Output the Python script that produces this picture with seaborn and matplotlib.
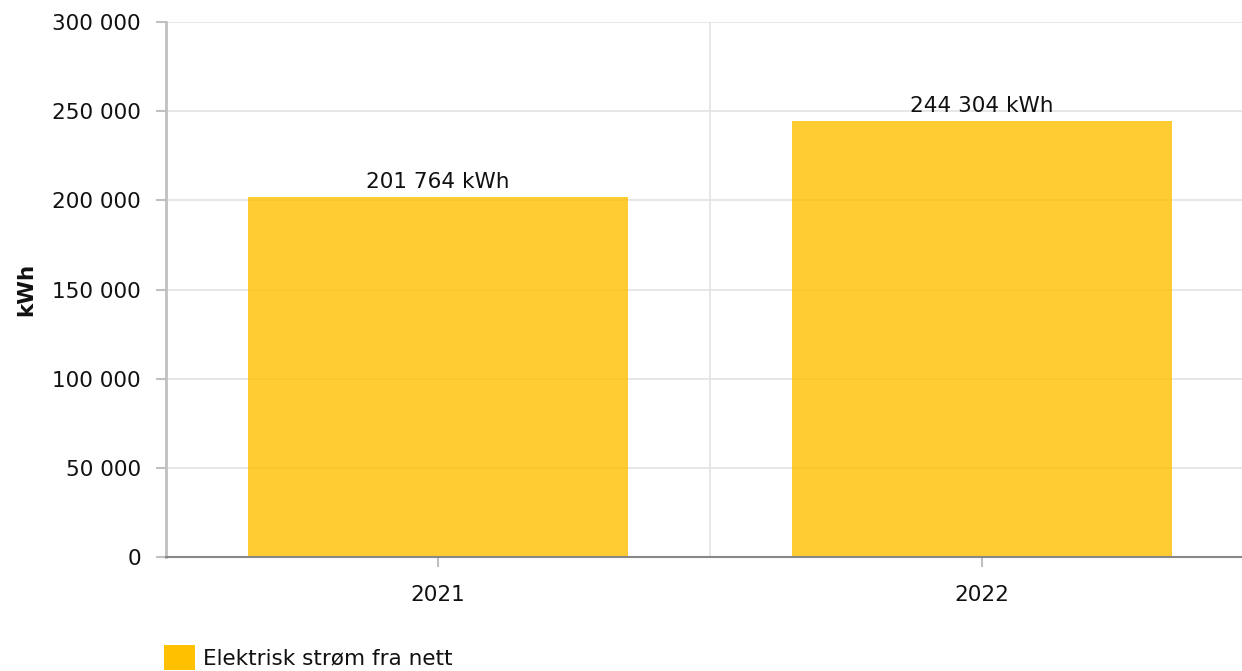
import matplotlib
matplotlib.use("Agg")
import matplotlib.pyplot as plt
import seaborn as sns
import pandas as pd
from matplotlib.ticker import FuncFormatter, MultipleLocator
from matplotlib.patches import Patch

years = ["2021", "2022"]
values = [201764, 244304]
series_name = "Elektrisk strøm fra nett"
y_label = "kWh"

sns.set_theme(style="white")
plt.rcParams["font.family"] = ["DejaVu Sans"]

W, H = 1242, 671
fig = plt.figure(figsize=(W / 100, H / 100), dpi=100)
ax = fig.add_axes([166 / W, 114 / H, 1088 / W, 535 / H])

df = pd.DataFrame({"year": years, "value": values})
sns.barplot(data=df, x="year", y="value", color="#FFC000", saturation=1,
            alpha=0.8, width=0.7, ax=ax, errorbar=None, linewidth=0)

FS = 15.5
TXT = "#111111"
ax.set_xlim(-0.5, 1.5)
ax.set_ylim(0, 300000)
ax.yaxis.set_major_locator(MultipleLocator(50000))
ax.yaxis.set_major_formatter(FuncFormatter(lambda v, p: f"{v:,.0f}".replace(",", " ")))
ax.grid(axis="y", color="#E3E3E3", linewidth=1.2, zorder=0)
ax.set_axisbelow(True)
ax.axvline(0.5, color="#E3E3E3", linewidth=1.2, zorder=0)

for s in ["top", "right"]:
    ax.spines[s].set_visible(False)
ax.spines["left"].set_color("#C0C0C0")
ax.spines["left"].set_linewidth(2)
ax.spines["bottom"].set_color("#888888")
ax.spines["bottom"].set_linewidth(1.5)

ax.tick_params(axis="y", which="major", left=True, length=7.2, width=1.5,
               color="#C0C0C0", pad=10.8, labelsize=FS, labelcolor=TXT)
ax.tick_params(axis="x", which="major", bottom=True, length=7.2, width=1.5,
               color="#C0C0C0", pad=13, labelsize=FS, labelcolor=TXT)

ax.set_xlabel("")
ax.set_ylabel(y_label, fontsize=FS, fontweight="bold", color=TXT)
ax.yaxis.set_label_coords(-0.119, 0.5)

ax.bar_label(ax.containers[0],
             labels=[f"{v:,.0f}".replace(",", " ") + " kWh" for v in values],
             padding=4, fontsize=FS, color=TXT)

handle = Patch(facecolor="#FFC000", edgecolor="none", label=series_name)
fig.legend(handles=[handle], loc="upper left", bbox_to_anchor=(164 / W, 1 - 645 / H),
           frameon=False, fontsize=FS, handlelength=1.42, handleheight=1.42,
           handletextpad=0.37, borderpad=0, borderaxespad=0, labelcolor=TXT)

fig.savefig("out.png", dpi=100)
